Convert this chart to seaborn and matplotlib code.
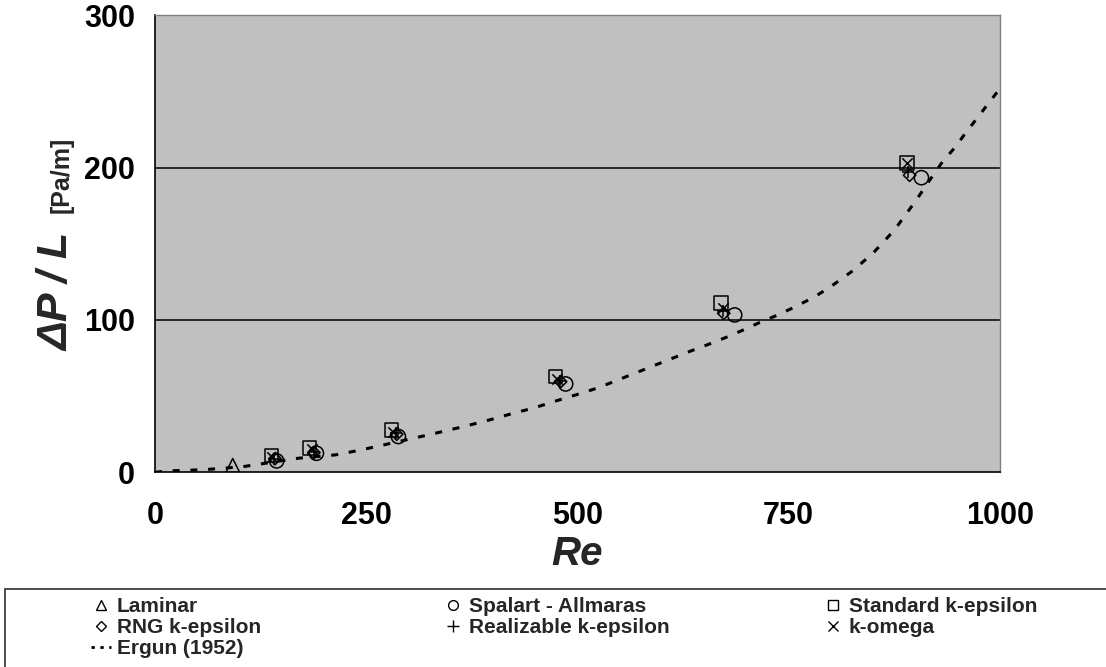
import matplotlib
matplotlib.use("Agg")
import matplotlib.pyplot as plt
from matplotlib.lines import Line2D
from matplotlib.patches import Rectangle
import seaborn as sns

# -----------------
# data (Re, dP/L in Pa/m)
# -----------------
laminar_re = [92]
laminar_dp = [4.5]

spalart_re = [144, 191, 288, 486, 686, 907]
spalart_dp = [7.5, 12.5, 23.5, 58, 103.3, 193.4]

std_ke_re = [138, 183, 280, 474, 670, 890]
std_ke_dp = [10.9, 15.8, 27.8, 62.8, 111, 203]

rng_ke_re = [142, 188, 286, 480, 673, 893]
rng_ke_dp = [9, 13, 25, 59.5, 104.4, 195]

real_ke_re = [141, 188, 285, 479, 672, 891]
real_ke_dp = [9, 13.5, 25.5, 60, 106, 197]

komega_re = [139, 186, 282, 476, 672, 890]
komega_dp = [10, 15, 26.5, 61, 108, 203]

ergun_re = [0, 14, 36, 57, 79, 104, 169, 213, 233, 258, 302, 323, 343, 365, 385, 406,
            426, 447, 468, 487, 507, 526, 632, 656, 676, 696, 715, 735, 754, 780, 800,
            825, 850, 875, 900, 921, 933, 947, 959, 972, 984, 1000]
ergun_dp = [0, 0.9, 1.3, 1.7, 2.6, 3.7, 9.2, 11.4, 13.5, 16.4, 21.9, 24.5, 27.1, 30, 32.8, 35.9,
            39.1, 42, 45.7, 49, 52.3, 55.8, 79.2, 84.2, 88.6, 93.4, 98.2, 102.8, 107.7, 115, 122,
            132, 144, 159, 178, 195.2, 204.6, 213.4, 222.6, 231.8, 240.5, 252]

x_ticks = [0, 250, 500, 750, 1000]
y_ticks = [0, 100, 200, 300]

W, H = 1106, 667

sns.set_style("white")
plt.rcParams["font.family"] = ["Liberation Sans", "DejaVu Sans"]
plt.rcParams["font.weight"] = "bold"

fig = plt.figure(figsize=(W / 100, H / 100), dpi=100)
ax = fig.add_axes([155 / W, 1 - 472.3 / H, (1000 - 155) / W, (472.3 - 15.3) / H])
ax.set_facecolor("#c0c0c0")

# Ergun correlation, dashed
sns.lineplot(x=ergun_re, y=ergun_dp, ax=ax, color="k", lw=2.2, sort=False, estimator=None,
             linestyle=(0, (2.3, 3.5)), zorder=2)


def draw(re, dp, marker, size, filled=True):
    if filled:
        sns.scatterplot(x=re, y=dp, ax=ax, marker=marker, s=size, facecolor="none",
                        edgecolor="k", linewidth=1.1, zorder=3)
    else:
        sns.scatterplot(x=re, y=dp, ax=ax, marker=marker, s=size, color="k",
                        linewidth=1.1, zorder=3)


draw(laminar_re, laminar_dp, "^", 100)
draw(std_ke_re, std_ke_dp, "s", 95)
draw(spalart_re, spalart_dp, "o", 105)
draw(rng_ke_re, rng_ke_dp, "D", 40)
draw(real_ke_re, real_ke_dp, "+", 65, filled=False)
draw(komega_re, komega_dp, "x", 55, filled=False)

ax.set_xlim(0, 1000)
ax.set_ylim(0, 300)
ax.set_xticks(x_ticks)
ax.set_yticks(y_ticks)
ax.grid(False)
for yv in y_ticks[1:-1]:
    ax.axhline(yv, color="k", lw=1.1, zorder=1)

ax.tick_params(axis="both", direction="out", length=6.5, width=1, labelsize=22, colors="k")
ax.tick_params(axis="x", pad=14)
ax.tick_params(axis="y", pad=8)
for lab in ax.get_xticklabels() + ax.get_yticklabels():
    lab.set_fontweight("bold")

for s in ["left", "bottom"]:
    ax.spines[s].set_color("k")
    ax.spines[s].set_linewidth(1.2)
for s in ["top", "right"]:
    ax.spines[s].set_color("#808080")
    ax.spines[s].set_linewidth(1)

ax.set_xlabel("Re", fontsize=29, fontweight="bold", fontstyle="italic", labelpad=3)
ax.set_ylabel("")
fig.text(57 / W, 1 - 292 / H, "ΔP / L", rotation=90, ha="center", va="center",
         fontsize=31, fontweight="bold", fontstyle="italic")
fig.text(62 / W, 1 - 175 / H, "[Pa/m]", rotation=90, ha="center", va="center",
         fontsize=18, fontweight="bold")

# legend box below the plot (runs off the right and bottom edges)
fig.add_artist(Rectangle((5 / W, -0.2), 1.2, 0.2 + 1 - 589 / H, transform=fig.transFigure,
                         fill=False, edgecolor="#404040", lw=1.3))


def mk(marker, ms):
    return Line2D([], [], marker=marker, ls="", mfc="none", mec="k", mew=1, ms=ms, color="k")


columns = [
    (91, [mk("^", 7), mk("D", 5), Line2D([], [], color="k", lw=2, ls=(0, (1.2, 2.0)))],
     ["Laminar", "RNG k-epsilon", "Ergun (1952)"]),
    (443, [mk("o", 7), mk("+", 8)], ["Spalart - Allmaras", "Realizable k-epsilon"]),
    (823, [mk("s", 7), mk("x", 7)], ["Standard k-epsilon", "k-omega"]),
]
for x0, handles, labels in columns:
    fig.legend(handles=handles, labels=labels, loc="upper left",
               bbox_to_anchor=(x0 / W, 1 - 597 / H), bbox_transform=fig.transFigure,
               frameon=False, prop=dict(weight="bold", size=15), handlelength=0.96,
               handletextpad=0.28, labelspacing=0.1, borderpad=0, borderaxespad=0)

fig.savefig("out.png", dpi=100)
